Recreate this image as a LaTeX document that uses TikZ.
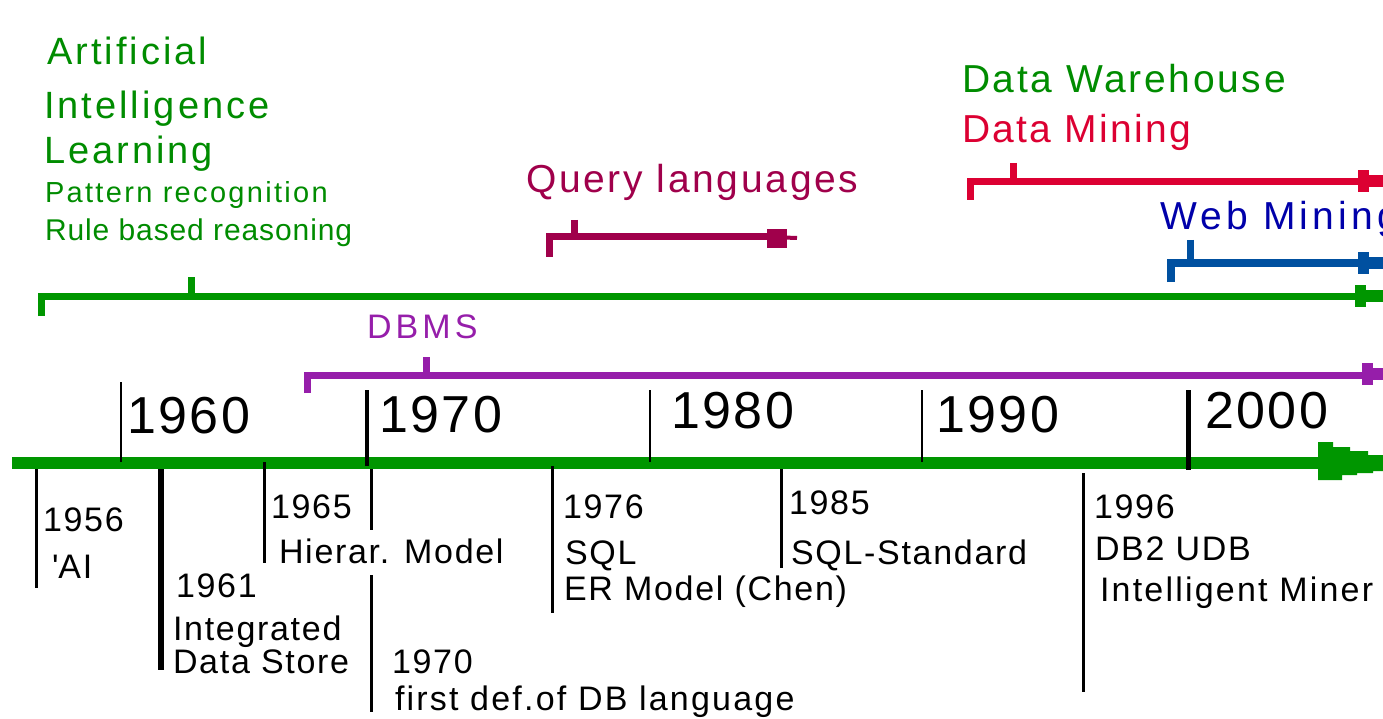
\documentclass[tikz,border=0pt]{standalone}
\usepackage{fontspec}
\setmainfont{Liberation Sans}

\definecolor{axisgreen}{RGB}{0,150,0}
\definecolor{aigreen}{RGB}{0,140,0}
\definecolor{dbmspurple}{RGB}{150,30,170}
\definecolor{querymaroon}{RGB}{160,0,75}
\definecolor{miningred}{RGB}{220,0,50}
\definecolor{webblue}{RGB}{0,80,160}
\definecolor{webtext}{RGB}{0,0,170}

\tikzset{
  txt/.style={anchor=base west, inner sep=0pt, outer sep=0pt},
  yearlabel/.style={txt, font=\fontsize{52}{60}\selectfont\addfontfeature{LetterSpace=5}},
  eventlabel/.style={txt, font=\fontsize{34}{40}\selectfont\addfontfeature{LetterSpace=5}},
  toplabel/.style={txt, font=\fontsize{39}{44}\selectfont\addfontfeature{LetterSpace=7}},
  sublabel/.style={txt, font=\fontsize{29}{34}\selectfont\addfontfeature{LetterSpace=8}},
  axisline/.style={axisgreen, line width=12pt},
  periodbar/.style={line width=7pt, line join=miter},
  tickstub/.style={line width=7pt},
  yeartick/.style={black},
  eventtick/.style={black, line width=3pt},
  % stepped arrow end on the period bars
  barhead/.pic={
    \fill (0,-11) rectangle (11,11);
    \fill (11,-6) rectangle (32,6);
  },
  % stepped arrow end on the time axis
  axishead/.pic={
    \fill (0,-21) -- (15,-21) -- (15,-16) -- (32,-16) -- (32,-12) -- (50,-12)
          -- (50,-8) -- (66,-8) -- (66,8) -- (55,8) -- (55,10) -- (39,10)
          -- (39,12) -- (24,12) -- (24,17) -- (0,17) -- cycle;
  },
}

\begin{document}
\begin{tikzpicture}[x=1pt, y=-1pt]
\useasboundingbox[fill=white] (0,0) rectangle (1383,719);

% ---------- labels of the research fields ----------
\node[toplabel, aigreen, font=\fontsize{38}{44}\selectfont\addfontfeature{LetterSpace=8}] (artificial) at (47,65) {Artificial};
\node[toplabel, aigreen, font=\fontsize{38}{44}\selectfont\addfontfeature{LetterSpace=8}] (intelligence) at (44,119) {Intelligence};
\node[toplabel, aigreen, font=\fontsize{38}{44}\selectfont\addfontfeature{LetterSpace=8}] (learning) at (44,164) {Learning};
\node[sublabel, aigreen] (pattern) at (45,203) {Pattern recognition};
\node[sublabel, aigreen, font=\fontsize{30}{34}\selectfont\addfontfeature{LetterSpace=3}] (rule) at (45,241) {Rule based reasoning};

\node[toplabel, querymaroon] (query) at (526,193) {Query languages};
\node[toplabel, aigreen, font=\fontsize{39}{44}\selectfont\addfontfeature{LetterSpace=7}] (warehouse) at (962,93) {Data Warehouse};
\node[toplabel, miningred, font=\fontsize{39}{44}\selectfont\addfontfeature{LetterSpace=6}] (mining) at (962,143) {Data Mining};
\node[toplabel, webtext, font=\fontsize{39}{44}\selectfont\addfontfeature{LetterSpace=11}] (web) at (1160,230) {Web Mining};
\node[toplabel, dbmspurple, font=\fontsize{34}{40}\selectfont\addfontfeature{LetterSpace=12}] (dbms) at (367,338) {DBMS};

% ---------- period bars ----------
% Artificial intelligence
\coordinate (ai-start) at (41,316);
\coordinate (ai-end) at (1383,296);
\coordinate (ai-mark) at (191,277);
\draw[periodbar, axisgreen] (ai-start) |- (ai-end);
\draw[tickstub, axisgreen] (ai-mark) -- (ai-mark |- ai-end);
\pic[axisgreen] at (1355,296) {barhead};

% DBMS
\coordinate (db-start) at (307,393);
\coordinate (db-end) at (1383,375);
\coordinate (db-mark) at (426,357);
\draw[periodbar, dbmspurple] (db-start) |- (db-end);
\draw[tickstub, dbmspurple] (db-mark) -- (db-mark |- db-end);
\pic[dbmspurple] at (1362,374) {barhead};

% Query languages
\coordinate (ql-start) at (549,257);
\coordinate (ql-end) at (770,237);
\coordinate (ql-tip) at (797,238);
\coordinate (ql-mark) at (574,220);
\draw[periodbar, querymaroon] (ql-start) |- (ql-end);
\draw[tickstub, querymaroon] (ql-mark) -- (ql-mark |- ql-end);
\fill[querymaroon] (767,229) rectangle (787,248);
\draw[querymaroon, line width=4pt] (ql-end) -- (ql-tip);

% Data mining
\coordinate (dm-start) at (970,200);
\coordinate (dm-end) at (1383,182);
\coordinate (dm-mark) at (1013,163);
\draw[periodbar, miningred] (dm-start) |- (dm-end);
\draw[tickstub, miningred] (dm-mark) -- (dm-mark |- dm-end);
\pic[miningred] at (1358,181) {barhead};

% Web mining
\coordinate (wm-start) at (1171,282);
\coordinate (wm-end) at (1383,263);
\coordinate (wm-mark) at (1190,240);
\draw[periodbar, webblue, line width=8pt] (wm-start) |- (wm-end);
\draw[tickstub, webblue] (wm-mark) -- (wm-mark |- wm-end);
\pic[webblue] at (1358,263) {barhead};

% ---------- time axis ----------
\coordinate (axis-start) at (12,463);
\coordinate (axis-end) at (1320,463);
\draw[axisline] (axis-start) -- (axis-end);
\pic[axisgreen] at (1318,463) {axishead};

% decade ticks and labels
\draw[yeartick, line width=2pt]   (121,382) -- (121,462);
\draw[yeartick, line width=4.5pt] (367,390) -- (367,466);
\draw[yeartick, line width=2.5pt] (650,390) -- (650,462);
\draw[yeartick, line width=2.5pt] (922,390) -- (922,462);
\draw[yeartick, line width=5pt]   (1188,390) -- (1188,470);

\node[yearlabel] (y1960) at (127,433) {1960};
\node[yearlabel] (y1970) at (379,432) {1970};
\node[yearlabel] (y1980) at (671,428) {1980};
\node[yearlabel] (y1990) at (936,432) {1990};
\node[yearlabel] (y2000) at (1205,428) {2000};

% ---------- events ----------
\draw[eventtick] (36,469) -- (36,588);
\node[eventlabel] (e1956) at (43,531) {1956};
\node[eventlabel] (e1956b) at (52,578) {\textquotesingle AI};

\draw[eventtick, line width=6pt] (161,469) -- (161,670);
\node[eventlabel] (e1961) at (176,597) {1961};
\node[eventlabel] (e1961b) at (173,640) {Integrated};
\node[eventlabel] (e1961c) at (173,673) {Data Store};

\draw[eventtick] (264,462) -- (264,563);
\node[eventlabel] (e1965) at (271,518) {1965};
\node[eventlabel] (e1965b) at (279,563) {Hierar. Model};

\draw[eventtick] (371,469) -- (371,530);
\draw[eventtick] (371,575) -- (371,712);
\node[eventlabel] (e1970) at (392,673) {1970};
\node[eventlabel, font=\fontsize{34}{40}\selectfont\addfontfeature{LetterSpace=6.5}] (e1970b) at (395,710) {first def.of DB language};

\draw[eventtick] (552,466) -- (552,613);
\node[eventlabel] (e1976) at (563,518) {1976};
\node[eventlabel] (e1976b) at (565,564) {SQL};
\node[eventlabel] (e1976c) at (564,600) {ER Model (Chen)};

\draw[eventtick] (781,469) -- (781,568);
\node[eventlabel] (e1985) at (789,514) {1985};
\node[eventlabel] (e1985b) at (791,564) {SQL-Standard};

\draw[eventtick] (1083,473) -- (1083,692);
\node[eventlabel] (e1996) at (1094,518) {1996};
\node[eventlabel] (e1996b) at (1095,560) {DB2 UDB};
\node[eventlabel, font=\fontsize{34}{40}\selectfont\addfontfeature{LetterSpace=6.5}] (e1996c) at (1100,601) {Intelligent Miner};
\end{tikzpicture}
\end{document}
